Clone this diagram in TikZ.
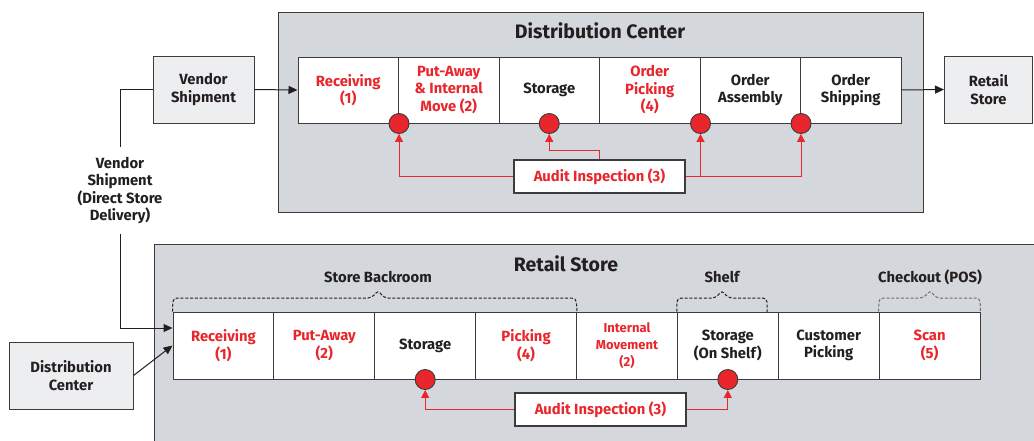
\documentclass[tikz,border=0pt]{standalone}
\usepackage{fontspec}
\setmainfont{Fira Sans}
\usetikzlibrary{arrows.meta,calc}
\definecolor{txt}{HTML}{231F20}
\definecolor{red1}{HTML}{E8262B}
\definecolor{cont}{HTML}{D4D7DC}
\definecolor{ext}{HTML}{EDEEF0}
\definecolor{edge}{HTML}{3C3C3C}
\definecolor{lightbrace}{HTML}{6E6E6E}
\begin{document}
\begin{tikzpicture}[x=1pt,y=-1pt,
 every node/.style={font=\fontsize{14.8}{17.5}\selectfont\bfseries, text=txt, align=center},
 container/.style={draw=edge, fill=cont, line width=1pt},
 extbox/.style={draw=edge, fill=ext, line width=1pt, minimum width=101pt, minimum height=67pt, inner sep=0pt},
 dcbox/.style={draw=edge, fill=white, line width=1pt, minimum width=100.5pt, minimum height=66pt, inner sep=0pt},
 rsbox/.style={draw=edge, fill=white, line width=1pt, minimum width=100.875pt, minimum height=67pt, inner sep=0pt},
 redtxt/.style={text=red1},
 dot/.style={circle, draw=edge, fill=red1, minimum size=20pt, inner sep=0pt, line width=0.9pt},
 auditbox/.style={draw=edge, fill=white, line width=1.2pt, text=red1, inner sep=0pt, minimum width=171pt, minimum height=33pt},
 redline/.style={draw=red1, line width=1pt},
 redarrow/.style={redline, -{Triangle[length=8pt,width=8pt]}},
 blkarrow/.style={draw=txt, line width=1pt, -{Triangle[length=9pt,width=8pt]}},
 bracedash/.style={dash pattern=on 3pt off 1.8pt, line width=1pt, rounded corners=4pt, draw=txt},
 titlefont/.style={font=\fontsize{19.5}{22}\selectfont\bfseries}
]
\useasboundingbox (0,0) rectangle (1034,440);

% containers
\fill[white] (0,0) rectangle (1034,440);
\draw[container] (278,12) rectangle (923,212);
\node[titlefont] (dctitle) at (600,31) {Distribution Center};
\draw[container] (154,470) -- (154,244) -- (1050,244) -- (1050,470);
\node[titlefont] (rstitle) at (566,264) {Retail Store};

% DC row
\node[dcbox, redtxt] (d1) at (348.25,90) {Receiving\\(1)};
\node[dcbox, redtxt] (d2) at (448.75,90) {Put-Away\\\& Internal\\Move (2)};
\node[dcbox] (d3) at (549.25,90) {Storage};
\node[dcbox, redtxt] (d4) at (649.75,90) {Order\\Picking\\(4)};
\node[dcbox] (d5) at (750.25,90) {Order\\Assembly};
\node[dcbox] (d6) at (850.75,90) {Order\\Shipping};

\node[dot] (c1) at (d1.south east) {};
\node[dot] (c2) at (d3.south) {};
\node[dot] (c3) at (d4.south east) {};
\node[dot] (c4) at (d5.south east) {};

\node[auditbox] (a1) at (599.5,176.5) {Audit Inspection (3)};
\coordinate (k1) at (599.5,150);
\draw[redarrow] (a1.west) -| (c1.south);
\draw[redarrow] (a1.north) -- (k1) -| (c2.south);
\draw[redarrow] (a1.east) -| (c3.south);
\draw[redarrow] (a1.east) -| (c4.south);

% outside boxes
\node[extbox] (vs) at (203.5,89.5) {Vendor\\Shipment};
\node[extbox, minimum width=88pt, anchor=west] (rs) at (944,89.5) {Retail\\Store};
\node[extbox, minimum width=124pt] (dcb) at (71,375.5) {Distribution\\Center};

\draw[blkarrow] (vs.east) -- (d1.west);
\draw[blkarrow] (d6.east) -- (rs.west);

\node[inner sep=0pt, minimum height=86pt] (dsd) at (120,190.5) {Vendor\\Shipment\\(Direct Store\\Delivery)};

% Retail store row
\node[rsbox, redtxt] (r1) at (223.44,345.5) {Receiving\\(1)};
\node[rsbox, redtxt] (r2) at (324.31,345.5) {Put-Away\\(2)};
\node[rsbox] (r3) at (425.19,345.5) {Storage};
\node[rsbox, redtxt] (r4) at (526.06,345.5) {Picking\\(4)};
\node[rsbox, redtxt, font=\fontsize{13}{17}\selectfont\bfseries] (r5) at (626.94,345.5) {Internal\\Movement\\(2)};
\node[rsbox] (r6) at (727.81,345.5) {Storage\\(On Shelf)};
\node[rsbox] (r7) at (828.69,345.5) {Customer\\Picking};
\node[rsbox, redtxt] (r8) at (929.56,345.5) {Scan\\(5)};

\draw[line width=1pt, draw=txt] (vs.west) -| (dsd.north);
\draw[blkarrow] (dsd.south) |- ([yshift=17.5pt]r1.west);
\draw[blkarrow] (dcb.east) -- (r1.west);

\node[dot] (e1) at (r3.south) {};
\node[dot] (e2) at (r6.south) {};
\node[auditbox] (a2) at (600.5,409.5) {Audit Inspection (3)};
\draw[redarrow] (a2.west) -| (e1.south);
\draw[redarrow] (a2.east) -| (e2.south);

% braces
\draw[bracedash] (r1.north west) -- (173,298) -- (372,298) -- (378,290) -- (384,298) -- (576,298) -- (r4.north east);
\node (lb1) at (378,277) {Store Backroom};
\draw[bracedash] (r6.north west) -- (677,298) -- (716,298) -- (722,290) -- (728,298) -- (767,298) -- (767,312);
\node (lb2) at (722,277) {Shelf};
\draw[bracedash, draw=lightbrace] (r8.north west) -- (879,298) -- (924,298) -- (930,290) -- (936,298) -- (980,298) -- (r8.north east);
\node (lb3) at (930,277) {Checkout (POS)};
\end{tikzpicture}
\end{document}
